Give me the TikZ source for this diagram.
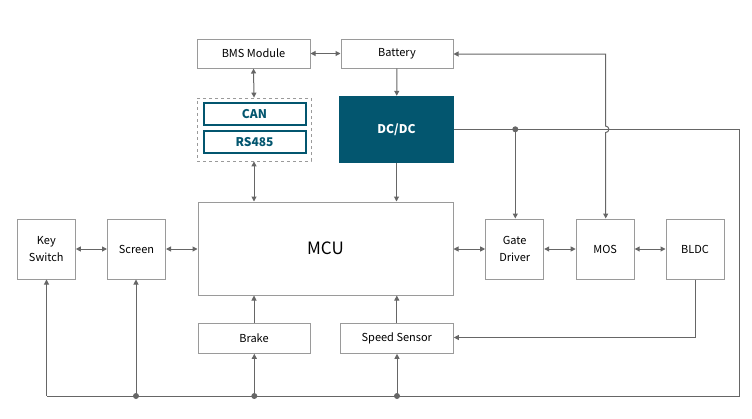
\documentclass[tikz,border=0pt]{standalone}
\usepackage{fontspec}
\setmainfont{Noto Sans CJK SC}
\usetikzlibrary{arrows.meta}
\definecolor{teal1}{HTML}{03566F}
\definecolor{linec}{HTML}{666666}
\definecolor{boxc}{HTML}{9A9A9A}
\begin{document}
\begin{tikzpicture}[x=1pt,y=-1pt,
  blk/.style={draw=boxc,line width=1pt,fill=white,inner sep=0pt,font=\fontsize{11}{16.5}\selectfont,align=center},
  tbox/.style={draw=teal1,line width=2pt,inner sep=0pt,font=\fontsize{12}{14}\selectfont\bfseries,text=teal1},
  conn/.style={draw=linec,line width=1pt},
  arr/.style={conn,-{Triangle[length=5pt,width=5pt]}},
  darr/.style={conn,{Triangle[length=5pt,width=5pt]}-{Triangle[length=5pt,width=5pt]}},
  dot/.style={circle,fill=linec,inner sep=0pt,minimum size=6pt}]
\useasboundingbox (0,0) rectangle (752,418);
% boxes
\node[blk,minimum width=113pt,minimum height=29pt] (bms) at (253.5,53.5) {BMS Module};
\node[blk,minimum width=112pt,minimum height=29pt] (bat) at (397,53.5) {Battery};
\node[draw=boxc,dashed,line width=0.8pt,minimum width=114pt,minimum height=63pt,inner sep=0pt] (com) at (254,129.5) {};
\node[tbox,minimum width=102pt,minimum height=22pt] (can) at (254.5,114.3) {CAN};
\node[tbox,minimum width=102pt,minimum height=22pt] (rs) at (254.5,142) {RS485};
\node[fill=teal1,minimum width=115pt,minimum height=67pt,inner sep=0pt,text=white,font=\fontsize{12}{14}\selectfont\bfseries] (dc) at (396.5,129.5) {DC/DC};
\node[blk,minimum width=255pt,minimum height=93pt,font=\fontsize{17}{19}\selectfont] (mcu) at (325.5,248.5) {MCU};
\node[blk,minimum width=58pt,minimum height=60pt] (key) at (46.3,249) {Key\\Switch};
\node[blk,minimum width=58pt,minimum height=60pt] (scr) at (136.5,249) {Screen};
\node[blk,minimum width=112pt,minimum height=30pt] (brk) at (254,338.3) {Brake};
\node[blk,minimum width=113pt,minimum height=30pt] (spd) at (396.8,338.3) {Speed Sensor};
\node[blk,minimum width=58pt,minimum height=60pt] (gd) at (514.7,249) {Gate\\Driver};
\node[blk,minimum width=58pt,minimum height=60pt] (mos) at (605.2,249) {MOS};
\node[blk,minimum width=58pt,minimum height=60pt] (bldc) at (695,249) {BLDC};
% coordinates
\coordinate (j1) at (515.3,129.3);
\coordinate (rc) at (739.7,129.3);
\coordinate (rb) at (739.7,396);
\coordinate (lb) at (46.5,396);
\coordinate (d1) at (136,396);
\coordinate (d2) at (254.3,396);
\coordinate (d3) at (397,396);
\coordinate (bt) at (605.7,54);
\coordinate (bl) at (695.7,337.5);
% connectors
\draw[darr] (bms) -- (bat);
\draw[darr] (bms.south) -- (com.north);
\draw[darr] (com.south) -- (com.south |- mcu.north);
\draw[arr] (bat) -- (dc);
\draw[arr] (dc) -- (dc.south |- mcu.north);
\draw[darr] (key) -- (scr);
\draw[darr] (scr.east) -- (scr.east -| mcu.west);
\draw[darr] (mcu.east |- gd.west) -- (gd.west);
\draw[darr] (gd) -- (mos);
\draw[darr] (mos) -- (bldc);
\draw[arr] (brk.north) -- (brk.north |- mcu.south);
\draw[arr] (spd.north) -- (spd.north |- mcu.south);
% DC/DC output bus
\draw[conn] (dc.east |- j1) -- (rc) -- (rb) -- (lb);
\draw[arr] (j1) -- (j1 |- gd.north);
\node[dot] at (j1) {};
% Battery feed with hop
\draw[darr] (bt |- mos.north) -- (605.7,132.5) arc[start angle=-90,end angle=90,radius=3.2pt] -- (bt) -- (bat.east |- bt);
% BLDC to speed sensor
\draw[arr] (bldc.south -| bl) -- (bl) -- (spd.east |- bl);
% bottom bus arrows
\draw[arr] (lb) -- (lb |- key.south);
\draw[arr] (d1) -- (d1 |- scr.south);
\draw[arr] (d2) -- (d2 |- brk.south);
\draw[arr] (d3) -- (d3 |- spd.south);
\node[dot] at (d1) {};
\node[dot] at (d2) {};
\node[dot] at (d3) {};
\end{tikzpicture}
\end{document}
